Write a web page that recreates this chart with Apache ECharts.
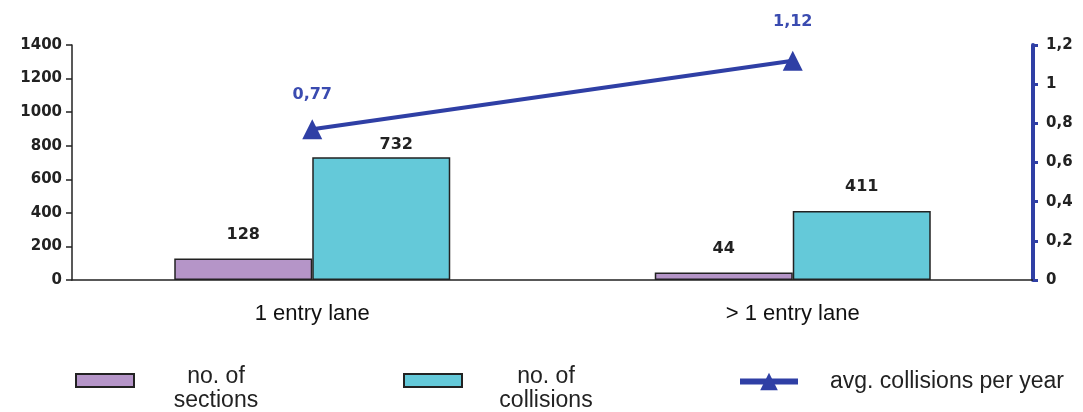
<!DOCTYPE html>
<html><head><meta charset="utf-8">
<script src="https://cdn.jsdelivr.net/npm/echarts@6/dist/echarts.min.js"></script>
<style>html,body{margin:0;padding:0;background:#fff}#c{width:1083px;height:412px}</style>
</head><body><div id="c"></div>
<script>
const categories = ['1 entry lane', '> 1 entry lane'];
const sections = [128, 44];
const collisions = [732, 411];
const avgCollisions = [0.77, 1.12];
const leftTicks = [0, 200, 400, 600, 800, 1000, 1200, 1400];
const rightTicks = [0, 0.2, 0.4, 0.6, 0.8, 1, 1.2];

const comma = v => String(v).replace('.', ',');
const chart = echarts.init(document.getElementById('c'));
const richA = {a: {fontFamily: 'Liberation Sans', fontSize: 23, color: '#222', width: 100, align: 'center', lineHeight: 24}};

chart.setOption({
  animation: false,
  backgroundColor: '#fff',
  grid: {left: 72, right: 50, top: 45, bottom: 132},
  xAxis: {
    type: 'category', data: categories,
    axisLine: {lineStyle: {color: '#222', width: 1.5}},
    axisTick: {show: false},
    axisLabel: {fontFamily: 'Liberation Sans', fontSize: 22, color: '#111', margin: 23}
  },
  yAxis: [{
    type: 'value', min: leftTicks[0], max: leftTicks[leftTicks.length - 1], interval: 200,
    axisLine: {show: true, lineStyle: {color: '#222', width: 1.5}},
    axisTick: {show: true, length: 6, lineStyle: {color: '#222', width: 1.5}},
    splitLine: {show: false},
    axisLabel: {fontFamily: 'DejaVu Sans', fontWeight: 'bold', fontSize: 15, color: '#222', margin: 10,
      formatter: v => String(v)}
  }, {
    type: 'value', position: 'right', min: rightTicks[0], max: rightTicks[rightTicks.length - 1], interval: 0.2,
    axisLine: {show: true, lineStyle: {color: '#2f3fa5', width: 4}},
    axisTick: {show: true, length: 5, lineStyle: {color: '#2f3fa5', width: 3}},
    splitLine: {show: false},
    axisLabel: {fontFamily: 'DejaVu Sans', fontWeight: 'bold', fontSize: 15, color: '#222', margin: 13,
      formatter: v => comma(+v.toFixed(1))}
  }],
  legend: [{
    left: 70, top: 360, itemWidth: 58, itemHeight: 13, icon: 'rect', data: ['no. of sections'],
    formatter: () => '{a|no. of}\n{a|sections}',
    textStyle: {padding: [16, 0, 0, 27], rich: richA}
  }, {
    left: 398, top: 360, itemWidth: 58, itemHeight: 13, icon: 'rect', data: ['no. of collisions'],
    formatter: () => '{a|no. of}\n{a|collisions}',
    textStyle: {padding: [16, 0, 0, 29], rich: richA}
  }, {
    left: 732, top: 365, itemWidth: 58, itemHeight: 22, data: ['avg. collisions per year'],
    lineStyle: {width: 6},
    textStyle: {fontFamily: 'Liberation Sans', fontSize: 23, color: '#222', padding: [0, 0, 0, 27]}
  }],
  series: [{
    name: 'no. of sections', type: 'bar', data: sections.map((v, i) => ({
      value: v, label: {distance: 16}
    })),
    barWidth: 138, barGap: '0%',
    itemStyle: {color: '#b595c8', borderColor: '#222', borderWidth: 1.5},
    label: {show: true, position: 'top', fontFamily: 'DejaVu Sans', fontWeight: 'bold', fontSize: 16, color: '#222'}
  }, {
    name: 'no. of collisions', type: 'bar', data: collisions.map((v, i) => ({
      value: v, label: i === 0 ? {distance: 4, offset: [15, 0]} : {distance: 16}
    })),
    barWidth: 138,
    itemStyle: {color: '#64c9d9', borderColor: '#222', borderWidth: 1.5},
    label: {show: true, position: 'top', fontFamily: 'DejaVu Sans', fontWeight: 'bold', fontSize: 16, color: '#222'}
  }, {
    name: 'avg. collisions per year', type: 'line', yAxisIndex: 1, data: avgCollisions.map((v, i) => ({
      value: v, label: {distance: i === 0 ? 16 : 21}
    })),
    symbol: 'triangle', symbolSize: 20,
    lineStyle: {color: '#2f3fa5', width: 4},
    itemStyle: {color: '#2f3fa5'},
    label: {show: true, position: 'top', fontFamily: 'DejaVu Sans', fontWeight: 'bold', fontSize: 16, color: '#3a4bb0',
      formatter: p => comma(p.value)}
  }]
});
</script></body></html>
